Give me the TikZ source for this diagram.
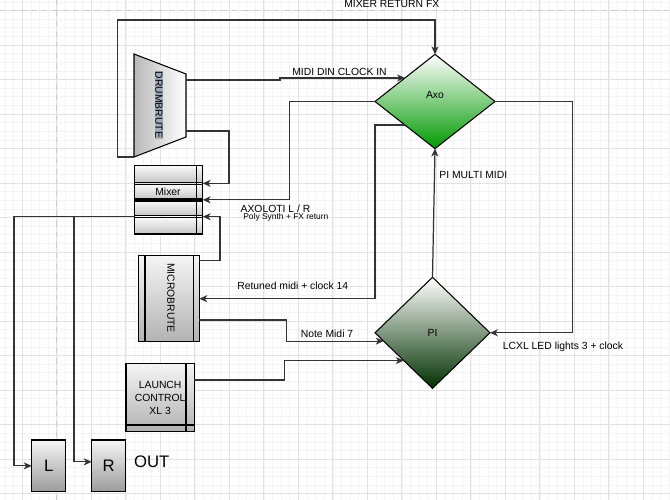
\documentclass[tikz,border=0pt]{standalone}
\usepackage{fontspec}
\setmainfont{Liberation Sans}
\usetikzlibrary{shapes.geometric, arrows.meta, calc}
\definecolor{axogreen}{RGB}{0,153,0}
\definecolor{pigreen}{RGB}{0,48,0}
\definecolor{gridminor}{RGB}{244,244,244}
\definecolor{gridmajor}{RGB}{226,226,226}
\definecolor{hilite}{RGB}{160,170,186}
\tikzstyle{device} = [rectangle, draw=black, line width=0.6pt, inner sep=0pt, outer sep=0pt, top color=gray!8, bottom color=gray!60]
\tikzstyle{decision} = [diamond, draw=black, line width=0.6pt, inner sep=0pt, outer sep=0pt]
\tikzstyle{arrow} = [line width=0.7pt, draw=black!80, ->, >={Stealth[length=4.5pt, width=4pt, inset=1.3pt]}]
\tikzstyle{lbl} = [font=\fontsize{5.9}{7.4}\selectfont, inner sep=0pt]
\tikzstyle{big} = [font=\fontsize{9.5}{11}\selectfont, inner sep=0pt]
\begin{document}
\begin{tikzpicture}[x=0.02cm, y=-0.02cm]
\useasboundingbox (0,0) rectangle (670,500);
\fill[white] (0,0) rectangle (670,500);

% background grid
\foreach \i in {0,...,77} \draw[gridminor, line width=0.4pt] ({5.15+8.625*\i},0) -- ++(0,500);
\foreach \i in {0,...,58} \draw[gridminor, line width=0.4pt] (0,{1.975+8.625*\i}) -- ++(670,0);
\foreach \i in {0,...,18} \draw[gridmajor, line width=0.5pt] ({22.4+34.5*\i},0) -- ++(0,500);
\foreach \i in {0,...,14} \draw[gridmajor, line width=0.5pt] (0,{10.6+34.5*\i}) -- ++(670,0);
\draw[gray!40, dashed, line width=0.6pt] (56.9,0) -- (56.9,500);
\draw[gray!40, dashed, line width=0.6pt] (0,10.6) -- (670,10.6);

% drumbrute
\draw[draw=black, line width=0.6pt, left color=gray!55, right color=white] (134,54) -- (186,74) -- (186,137) -- (134,157) -- cycle;
\coordinate (dbr1) at (186,80);
\coordinate (dbr2) at (186,131);
\coordinate (dbrsw) at (134,157);
\node (drumbrute) [lbl, rotate=-90, fill=hilite, inner sep=0.5pt] at (159,105) {DRUMBRUTE};

% mixer
\foreach \ya/\yb in {165.7/182.3, 184.3/199, 201/215.7, 217.7/234}
  \shade[top color=gray!5, bottom color=gray!45] (134.3,\ya) rectangle (202.7,\yb);
\node (mixer) [draw=black, line width=0.6pt, inner sep=0pt, outer sep=0pt, minimum width=1.368cm, minimum height=1.366cm] at (168.5,199.85) {};
\foreach \y in {182.3, 184.3, 199, 201, 215.7, 217.7}
  \draw[line width=0.6pt] (134.3,\y) -- (202.7,\y);
\draw[line width=0.6pt] (196.7,165.7) -- (196.7,234);
\node (mixertext) [lbl] at (168,192) {Mixer};

% microbrute
\node (mb) [device, minimum width=1.22cm, minimum height=1.72cm] at (168.8,298.7) {};
\draw[line width=0.6pt] (145,255.7) -- (145,341.7);
\draw[line width=0.6pt] (193.3,255.7) -- (193.3,341.7);
\node (mbtext) [lbl, rotate=-90] at (171,298) {MICROBRUTE};

% launch control
\node (lc) [device, minimum width=1.366cm, minimum height=1.368cm, lbl, align=center] at (160.15,397.5) {LAUNCH\\CONTROL\\XL 3};
\draw[line width=0.6pt] (186,363.3) -- (186,431.7);
\draw[line width=0.6pt] (126,425) -- (194.3,425);

% outputs
\node (l) [device, bottom color=gray!78, minimum width=0.68cm, minimum height=1.034cm, big] at (48.7,465.85) {L};
\node (r) [device, bottom color=gray!78, minimum width=0.68cm, minimum height=1.034cm, big] at (108.7,465.85) {R};
\node (out) [big] at (151.7,461.7) {OUT};

% axo and pi
\node (axo) [decision, minimum width=2.4cm, minimum height=1.886cm, top color=white, bottom color=axogreen] at (435,101.5) {};
\node (axotext) [lbl] at (435,95) {Axo};
\node (pi) [decision, minimum width=2.3cm, minimum height=2.22cm, top color=white, bottom color=pigreen, lbl] at (432.5,332.8) {PI};

% connections
\draw [arrow] (dbr1) -- ++(94,0) |- (axo.north west);
\node (midiin) [lbl] at (339.5,71.7) {MIDI DIN CLOCK IN};

\draw [arrow] (dbr2) -- ++(43,0) |- ($(mixer.east)+(0,-16.5)$);

\draw [arrow] (dbrsw) -- ++(-16.7,0) -- ++(0,-137) -| (axo.north);
\node (mixret) [lbl] at (391.8,3.5) {MIXER RETURN FX};

\draw [arrow] (axo.west) -- ++(-85.7,0) |- (mixer.east);
\node (axol) [lbl] at (275.5,209) {AXOLOTI L / R};
\node (poly) [font=\fontsize{4.8}{6}\selectfont, inner sep=0pt, anchor=west] at (243,217.7) {Poly Synth + FX return};

\draw [arrow] ($(mb.north east)+(0,5)$) -- ++(20.7,0) |- ($(mixer.east)+(0,16.85)$);

\draw [arrow] (axo.south west) -- ++(-30,0) |- (mb.east);
\node (retuned) [lbl] at (292.8,286) {Retuned midi + clock 14};

\draw [arrow] ($(mb.south east)+(0,-21.7)$) -- ++(87.4,0) |- ($(pi.west)!0.15!(pi.south)$);
\node (notemidi) [lbl] at (327,333.3) {Note Midi 7};

\draw [arrow] ($(lc.north east)+(0,16.7)$) -- ++(90,0) |- (pi.south west);

\draw [arrow] (pi.north) -- (axo.south);
\node (pimulti) [lbl] at (473.3,175) {PI MULTI MIDI};

\draw [arrow] (axo.east) -- ++(77.3,0) |- (pi.east);
\node (lcxl) [lbl] at (563,346.7) {LCXL LED lights 3 + clock};

\draw [arrow] ($(mixer.west)+(0,16.85)$) -- ++(-120.3,0) |- (l.west);
\draw [arrow] ($(mixer.west)+(0,16.85)$) -- ++(-60.3,0) |- ($(r.west)+(0,-4)$);
\end{tikzpicture}
\end{document}
